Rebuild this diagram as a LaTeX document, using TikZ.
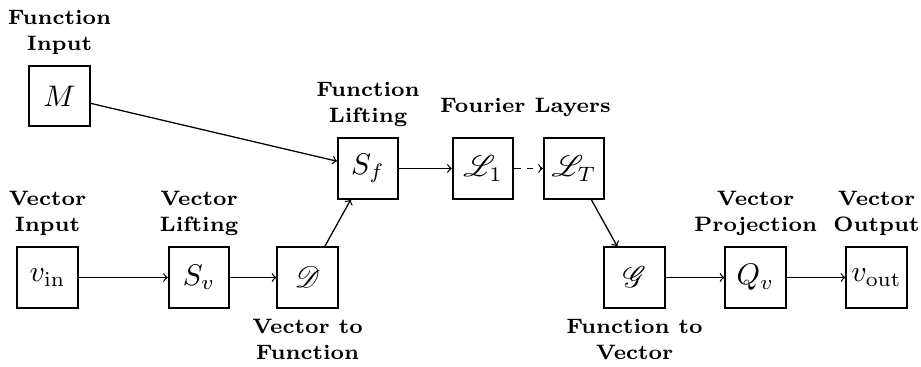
\documentclass[tikz,border=0pt]{standalone}
\usepackage{mathrsfs}
\usetikzlibrary{positioning}
\begin{document}
\begin{tikzpicture}[
  blk/.style={draw, line width=0.85pt, minimum size=1cm, inner sep=1pt},
  lbl/.style={font={\fontsize{7}{8.7}\selectfont\bfseries}, align=center, scale=1.4},
  conn/.style={->, line width=0.6pt}
]
\useasboundingbox (0,0) rectangle (15.223,-6.066);
\node[blk] (M)  at (0.983,-1.587) {\scalebox{1.4}{$M$}};
\node[blk] (vin) at (0.785,-4.587) {\scalebox{1.4}{$v_{\mathrm{in}}$}};
\node[blk] (Sv) at (3.289,-4.587) {\scalebox{1.4}{$S_v$}};
\node[blk] (D)  at (5.083,-4.587) {\scalebox{1.4}{$\mathscr{D}$}};
\node[blk] (Sf) at (6.083,-2.785) {\scalebox{1.4}{$S_f$}};
\node[blk] (L1) at (7.983,-2.785) {\scalebox{1.4}{$\mathscr{L}_1$}};
\node[blk] (LT) at (9.488,-2.785) {\scalebox{1.4}{$\mathscr{L}_T$}};
\node[blk] (G)  at (10.488,-4.587) {\scalebox{1.4}{$\mathscr{G}$}};
\node[blk] (Qv) at (12.488,-4.587) {\scalebox{1.4}{$Q_v$}};
\node[blk] (vout) at (14.488,-4.587) {\scalebox{1.4}{$v_{\mathrm{out}}$}};

\node[lbl, above=0pt of M] (lM) {Function\\Input};
\node[lbl, above=0pt of vin] (lvin) {Vector\\Input};
\node[lbl, above=0pt of Sv] (lSv) {Vector\\Lifting};
\node[lbl, below=0pt of D] (lD) {Vector to\\Function};
\node[lbl, above=0pt of Sf] (lSf) {Function\\Lifting};
\node[lbl, anchor=base] (lF) at (8.685,-1.863) {Fourier Layers};
\node[lbl, below=0pt of G] (lG) {Function to\\Vector};
\node[lbl, above=0pt of Qv] (lQv) {Vector\\Projection};
\node[lbl, above=0pt of vout] (lvout) {Vector\\Output};

\draw[conn] (M) -- (Sf);
\draw[conn] (vin) -- (Sv);
\draw[conn] (Sv) -- (D);
\draw[conn] (D) -- (Sf);
\draw[conn] (Sf) -- (L1);
\draw[conn, dashed] (L1) -- (LT);
\draw[conn] (LT) -- (G);
\draw[conn] (G) -- (Qv);
\draw[conn] (Qv) -- (vout);
\end{tikzpicture}
\end{document}
